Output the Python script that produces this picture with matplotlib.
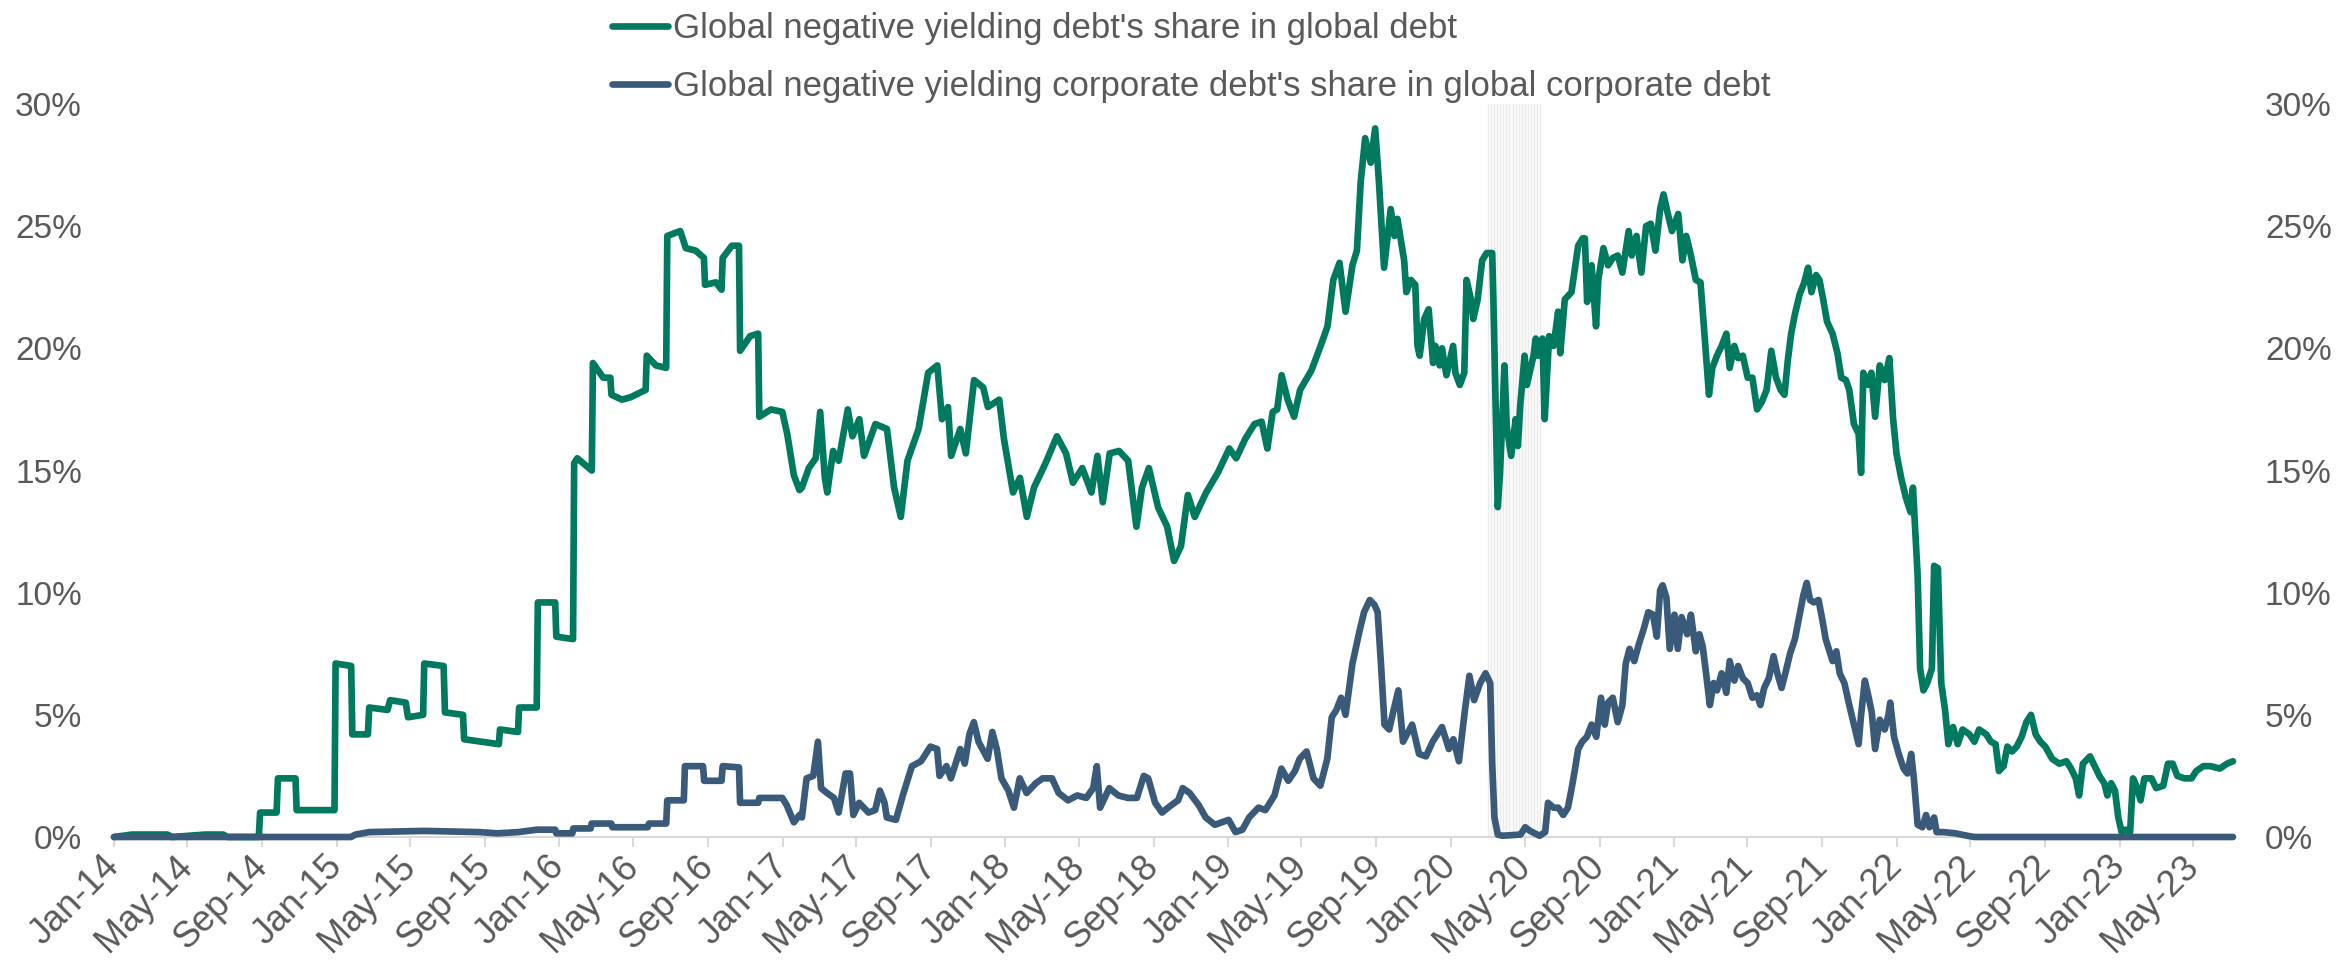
import matplotlib
matplotlib.use("Agg")
import matplotlib.pyplot as plt
import matplotlib.dates as mdates
from matplotlib.ticker import FuncFormatter
from datetime import datetime
import pandas as pd

# ---------------- DATA (dates as decimal years, values in %) ----------------
SERIES_NAMES = [
    "Global negative yielding debt's share in global debt",
    "Global negative yielding corporate debt's share in global corporate debt",
]

G_YR = [
    2014.000, 2014.080, 2014.240, 2014.260, 2014.410, 2014.490, 2014.510, 2014.650,
    2014.656, 2014.730, 2014.736, 2014.815, 2014.820, 2014.990, 2014.995, 2015.065,
    2015.070, 2015.140, 2015.146, 2015.228, 2015.240, 2015.310, 2015.320, 2015.388,
    2015.393, 2015.480, 2015.486, 2015.567, 2015.572, 2015.650, 2015.728, 2015.733,
    2015.814, 2015.819, 2015.898, 2015.903, 2015.981, 2015.986, 2016.061, 2016.066,
    2016.080, 2016.145, 2016.150, 2016.196, 2016.228, 2016.233, 2016.280, 2016.319,
    2016.386, 2016.391, 2016.432, 2016.478, 2016.483, 2016.541, 2016.566, 2016.610,
    2016.647, 2016.652, 2016.700, 2016.726, 2016.731, 2016.772, 2016.804, 2016.809,
    2016.854, 2016.890, 2016.895, 2016.947, 2016.998, 2017.020, 2017.050, 2017.075,
    2017.086, 2017.117, 2017.148, 2017.168, 2017.189, 2017.200, 2017.226, 2017.251,
    2017.292, 2017.313, 2017.344, 2017.365, 2017.416, 2017.468, 2017.500, 2017.530,
    2017.560, 2017.610, 2017.653, 2017.694, 2017.715, 2017.742, 2017.756, 2017.797,
    2017.822, 2017.859, 2017.900, 2017.921, 2017.972, 2017.993, 2018.034, 2018.065,
    2018.096, 2018.128, 2018.180, 2018.231, 2018.272, 2018.303, 2018.345, 2018.386,
    2018.413, 2018.437, 2018.468, 2018.510, 2018.551, 2018.588, 2018.613, 2018.644,
    2018.685, 2018.726, 2018.757, 2018.788, 2018.819, 2018.850, 2018.901, 2018.953,
    2019.005, 2019.036, 2019.077, 2019.118, 2019.150, 2019.176, 2019.200, 2019.220,
    2019.240, 2019.267, 2019.296, 2019.323, 2019.374, 2019.415, 2019.446, 2019.472,
    2019.500, 2019.527, 2019.558, 2019.578, 2019.595, 2019.615, 2019.640, 2019.660,
    2019.677, 2019.700, 2019.730, 2019.747, 2019.760, 2019.790, 2019.800, 2019.820,
    2019.840, 2019.850, 2019.860, 2019.880, 2019.900, 2019.920, 2019.930, 2019.950,
    2019.960, 2019.980, 2020.010, 2020.020, 2020.040, 2020.060, 2020.070, 2020.090,
    2020.100, 2020.120, 2020.140, 2020.160, 2020.185, 2020.190, 2020.210, 2020.220,
    2020.240, 2020.250, 2020.270, 2020.290, 2020.300, 2020.310, 2020.330, 2020.340,
    2020.370, 2020.380, 2020.390, 2020.410, 2020.420, 2020.440, 2020.460, 2020.480,
    2020.490, 2020.510, 2020.540, 2020.570, 2020.590, 2020.600, 2020.610, 2020.630,
    2020.650, 2020.660, 2020.683, 2020.704, 2020.725, 2020.747, 2020.768, 2020.796,
    2020.810, 2020.831, 2020.853, 2020.874, 2020.895, 2020.916, 2020.937, 2020.952,
    2020.969, 2020.990, 2021.018, 2021.037, 2021.054, 2021.075, 2021.097, 2021.118,
    2021.139, 2021.156, 2021.171, 2021.192, 2021.213, 2021.234, 2021.249, 2021.270,
    2021.287, 2021.308, 2021.330, 2021.351, 2021.372, 2021.393, 2021.415, 2021.436,
    2021.457, 2021.478, 2021.495, 2021.510, 2021.525, 2021.542, 2021.563, 2021.584,
    2021.601, 2021.616, 2021.637, 2021.652, 2021.669, 2021.686, 2021.711, 2021.733,
    2021.750, 2021.771, 2021.786, 2021.807, 2021.828, 2021.839, 2021.849, 2021.871,
    2021.885, 2021.902, 2021.923, 2021.945, 2021.966, 2021.983, 2021.998, 2022.019,
    2022.040, 2022.061, 2022.072, 2022.093, 2022.104, 2022.119, 2022.136, 2022.157,
    2022.167, 2022.184, 2022.199, 2022.216, 2022.231, 2022.252, 2022.273, 2022.295,
    2022.326, 2022.348, 2022.369, 2022.401, 2022.422, 2022.443, 2022.458, 2022.479,
    2022.496, 2022.517, 2022.538, 2022.560, 2022.581, 2022.602, 2022.623, 2022.644,
    2022.666, 2022.697, 2022.729, 2022.761, 2022.782, 2022.803, 2022.818, 2022.835,
    2022.867, 2022.888, 2022.909, 2022.931, 2022.945, 2022.962, 2022.979, 2022.994,
    2023.009, 2023.026, 2023.047, 2023.060, 2023.079, 2023.094, 2023.111, 2023.143,
    2023.164, 2023.196, 2023.217, 2023.238, 2023.259, 2023.291, 2023.323, 2023.344,
    2023.376, 2023.408, 2023.450, 2023.482, 2023.509,
]
G_VAL = [
    0.0, 0.1, 0.1, 0.0, 0.1, 0.1, 0.0, 0.0,
    1.0, 1.0, 2.4, 2.4, 1.1, 1.1, 7.1, 7.0,
    4.2, 4.2, 5.3, 5.2, 5.6, 5.5, 4.9, 5.0,
    7.1, 7.0, 5.1, 5.0, 4.0, 3.9, 3.8, 4.4,
    4.3, 5.3, 5.3, 9.6, 9.6, 8.2, 8.1, 15.3,
    15.5, 15.0, 19.4, 18.8, 18.8, 18.1, 17.9, 18.0,
    18.3, 19.7, 19.3, 19.2, 24.6, 24.8, 24.1, 24.0,
    23.7, 22.6, 22.7, 22.4, 23.7, 24.2, 24.2, 19.9,
    20.5, 20.6, 17.2, 17.5, 17.4, 16.5, 14.8, 14.2,
    14.3, 15.1, 15.5, 17.4, 14.7, 14.1, 15.8, 15.4,
    17.5, 16.4, 17.1, 15.6, 16.9, 16.7, 14.3, 13.1,
    15.4, 16.7, 19.0, 19.3, 17.1, 17.6, 15.6, 16.7,
    15.7, 18.7, 18.4, 17.6, 17.9, 16.3, 14.1, 14.7,
    13.1, 14.3, 15.3, 16.4, 15.7, 14.5, 15.1, 14.1,
    15.6, 13.7, 15.7, 15.8, 15.4, 12.7, 14.3, 15.1,
    13.5, 12.7, 11.3, 11.9, 14.0, 13.1, 14.1, 14.9,
    15.9, 15.5, 16.3, 16.9, 17.0, 15.9, 17.4, 17.5,
    18.9, 17.9, 17.2, 18.3, 19.1, 20.1, 20.9, 22.8,
    23.5, 21.5, 23.4, 24.0, 26.8, 28.6, 27.6, 29.0,
    26.8, 23.3, 25.7, 24.6, 25.3, 23.6, 22.3, 22.8,
    22.6, 20.1, 19.7, 21.2, 21.6, 19.4, 20.1, 19.3,
    20.0, 18.9, 20.1, 19.0, 18.5, 19.0, 22.8, 22.0,
    21.2, 22.0, 23.6, 23.9, 23.9, 22.1, 13.5, 14.9,
    19.3, 16.8, 15.6, 17.1, 16.0, 17.6, 19.7, 18.5,
    19.7, 20.4, 19.7, 20.4, 17.1, 20.5, 20.1, 21.5,
    19.8, 22.0, 22.3, 24.2, 24.5, 24.5, 21.9, 23.4,
    20.9, 22.8, 24.1, 23.4, 23.7, 23.8, 23.1, 24.8,
    23.8, 24.6, 23.1, 25.0, 25.1, 24.0, 25.7, 26.3,
    25.6, 24.8, 25.5, 23.6, 24.6, 23.8, 22.8, 22.7,
    20.2, 18.1, 19.2, 19.7, 20.1, 20.6, 19.2, 20.1,
    19.6, 19.7, 18.8, 18.8, 17.5, 17.8, 18.3, 19.9,
    18.8, 18.3, 18.1, 19.5, 20.6, 21.4, 22.2, 22.7,
    23.3, 22.3, 23.0, 22.8, 22.0, 21.1, 20.6, 19.8,
    18.8, 18.7, 18.3, 16.9, 16.5, 14.9, 19.0, 18.5,
    19.0, 17.2, 19.3, 18.7, 19.6, 17.1, 15.7, 14.7,
    13.9, 13.3, 14.3, 10.7, 6.9, 6.0, 6.3, 6.9,
    11.1, 11.0, 6.3, 5.2, 3.8, 4.5, 3.8, 4.4,
    4.2, 3.9, 4.4, 4.2, 3.9, 3.8, 2.7, 2.9,
    3.7, 3.5, 3.7, 4.1, 4.7, 5.0, 4.2, 3.9,
    3.7, 3.2, 3.0, 3.1, 2.8, 2.4, 1.7, 3.0,
    3.3, 2.9, 2.5, 2.2, 1.7, 2.2, 1.9, 0.8,
    0.2, 0.3, 0.2, 2.4, 2.0, 1.5, 2.4, 2.4,
    2.0, 2.1, 3.0, 3.0, 2.5, 2.4, 2.4, 2.7,
    2.9, 2.9, 2.8, 3.0, 3.1,
]

B_YR = [
    2014.000, 2015.064, 2015.084, 2015.146, 2015.393, 2015.640, 2015.722, 2015.815,
    2015.900, 2015.981, 2015.986, 2016.058, 2016.062, 2016.140, 2016.144, 2016.232,
    2016.237, 2016.395, 2016.401, 2016.478, 2016.483, 2016.557, 2016.562, 2016.643,
    2016.648, 2016.726, 2016.731, 2016.804, 2016.809, 2016.890, 2016.895, 2016.998,
    2017.018, 2017.050, 2017.075, 2017.086, 2017.107, 2017.137, 2017.158, 2017.172,
    2017.199, 2017.230, 2017.251, 2017.282, 2017.302, 2017.317, 2017.343, 2017.385,
    2017.415, 2017.436, 2017.457, 2017.467, 2017.508, 2017.539, 2017.580, 2017.621,
    2017.663, 2017.693, 2017.704, 2017.735, 2017.755, 2017.797, 2017.817, 2017.838,
    2017.858, 2017.879, 2017.920, 2017.941, 2017.961, 2017.982, 2018.013, 2018.038,
    2018.064, 2018.095, 2018.136, 2018.167, 2018.209, 2018.239, 2018.281, 2018.322,
    2018.363, 2018.394, 2018.410, 2018.425, 2018.466, 2018.507, 2018.549, 2018.590,
    2018.621, 2018.641, 2018.672, 2018.703, 2018.744, 2018.775, 2018.796, 2018.827,
    2018.868, 2018.899, 2018.940, 2019.002, 2019.033, 2019.064, 2019.094, 2019.136,
    2019.167, 2019.208, 2019.239, 2019.270, 2019.300, 2019.321, 2019.352, 2019.383,
    2019.414, 2019.445, 2019.465, 2019.486, 2019.507, 2019.527, 2019.558, 2019.589,
    2019.610, 2019.636, 2019.657, 2019.671, 2019.686, 2019.702, 2019.723, 2019.743,
    2019.764, 2019.785, 2019.826, 2019.857, 2019.888, 2019.918, 2019.960, 2019.991,
    2020.011, 2020.036, 2020.063, 2020.083, 2020.104, 2020.131, 2020.155, 2020.176,
    2020.185, 2020.195, 2020.210, 2020.230, 2020.312, 2020.333, 2020.354, 2020.397,
    2020.422, 2020.435, 2020.460, 2020.481, 2020.503, 2020.524, 2020.541, 2020.556,
    2020.570, 2020.588, 2020.609, 2020.630, 2020.651, 2020.672, 2020.689, 2020.704,
    2020.725, 2020.747, 2020.768, 2020.783, 2020.800, 2020.821, 2020.842, 2020.863,
    2020.884, 2020.905, 2020.922, 2020.937, 2020.948, 2020.965, 2020.980, 2021.001,
    2021.016, 2021.033, 2021.058, 2021.075, 2021.097, 2021.113, 2021.128, 2021.143,
    2021.160, 2021.177, 2021.192, 2021.213, 2021.234, 2021.249, 2021.270, 2021.287,
    2021.308, 2021.330, 2021.351, 2021.372, 2021.387, 2021.404, 2021.425, 2021.446,
    2021.463, 2021.482, 2021.499, 2021.520, 2021.542, 2021.563, 2021.580, 2021.595,
    2021.610, 2021.627, 2021.648, 2021.665, 2021.680, 2021.694, 2021.711, 2021.728,
    2021.743, 2021.764, 2021.786, 2021.807, 2021.828, 2021.839, 2021.856, 2021.871,
    2021.887, 2021.902, 2021.923, 2021.945, 2021.962, 2021.970, 2021.987, 2022.008,
    2022.030, 2022.047, 2022.064, 2022.076, 2022.093, 2022.114, 2022.131, 2022.146,
    2022.167, 2022.178, 2022.210, 2022.263, 2022.316, 2022.348, 2023.509,
]
B_VAL = [
    0.0, 0.0, 0.1, 0.2, 0.25, 0.2, 0.15, 0.2,
    0.3, 0.3, 0.15, 0.15, 0.35, 0.35, 0.55, 0.55,
    0.4, 0.4, 0.55, 0.55, 1.5, 1.5, 2.9, 2.9,
    2.3, 2.3, 2.9, 2.85, 1.4, 1.4, 1.6, 1.6,
    1.3, 0.6, 0.9, 0.8, 2.4, 2.5, 3.9, 2.0,
    1.8, 1.6, 1.0, 2.6, 2.6, 0.9, 1.4, 1.0,
    1.1, 1.9, 1.4, 0.8, 0.7, 1.7, 2.9, 3.1,
    3.7, 3.6, 2.5, 2.9, 2.4, 3.6, 3.0, 4.2,
    4.7, 3.9, 3.2, 4.3, 3.6, 2.4, 1.9, 1.2,
    2.4, 1.8, 2.2, 2.4, 2.4, 1.8, 1.5, 1.7,
    1.6, 2.0, 2.9, 1.2, 2.0, 1.7, 1.6, 1.6,
    2.5, 2.4, 1.4, 1.0, 1.3, 1.5, 2.0, 1.8,
    1.3, 0.8, 0.5, 0.7, 0.2, 0.3, 0.8, 1.2,
    1.1, 1.7, 2.8, 2.3, 2.7, 3.2, 3.5, 2.4,
    2.1, 3.2, 4.9, 5.2, 5.7, 5.0, 7.1, 8.4,
    9.2, 9.7, 9.5, 9.2, 7.1, 4.6, 4.4, 5.2,
    6.0, 3.9, 4.6, 3.4, 3.3, 3.9, 4.5, 3.6,
    4.0, 3.1, 5.2, 6.6, 5.6, 6.3, 6.7, 6.3,
    3.0, 0.8, 0.1, 0.05, 0.1, 0.4, 0.25, 0.05,
    0.2, 1.4, 1.2, 1.2, 0.9, 1.2, 2.0, 2.8,
    3.6, 3.9, 4.1, 4.6, 4.1, 5.7, 4.6, 5.5,
    5.7, 4.7, 5.4, 7.1, 7.7, 7.2, 7.9, 8.5,
    9.2, 9.1, 8.2, 10.1, 10.3, 9.8, 7.7, 9.1,
    7.7, 9.0, 8.3, 9.1, 7.6, 8.3, 7.8, 6.7,
    5.4, 6.3, 6.0, 6.7, 5.9, 7.2, 6.4, 7.0,
    6.5, 6.3, 5.7, 5.8, 5.4, 6.1, 6.5, 7.4,
    6.7, 6.1, 6.7, 7.5, 8.1, 9.1, 9.9, 10.4,
    9.7, 9.6, 9.7, 8.9, 8.1, 7.7, 7.2, 7.6,
    6.7, 6.3, 5.4, 4.6, 3.8, 5.0, 6.4, 5.8,
    5.1, 3.6, 4.8, 4.4, 5.0, 5.5, 4.1, 3.4,
    2.8, 2.6, 3.4, 2.4, 0.5, 0.4, 0.9, 0.4,
    0.8, 0.2, 0.2, 0.15, 0.05, 0.0, 0.0,
]

HATCH_START = "2020-03-02"
HATCH_END = "2020-05-29"
X_START = "2014-01-01"
Y_TICKS = [0, 5, 10, 15, 20, 25, 30]

# ---------------- helpers ----------------
def dec_year(y):
    yr = int(y)
    a = datetime(yr, 1, 1)
    b = datetime(yr + 1, 1, 1)
    return a + (b - a) * (y - yr)

g_dates = [dec_year(v) for v in G_YR]
b_dates = [dec_year(v) for v in B_YR]

GREEN = "#007A5E"
BLUE = "#3A5A7A"
TEXT = "#595959"
AXIS = "#D9D9D9"

plt.rcParams["font.family"] = ["Liberation Sans", "DejaVu Sans"]

W, H = 2336, 964
fig = plt.figure(figsize=(W / 100, H / 100), dpi=100)
L, R, B, T = 114, 2233, 837, 104
ax = fig.add_axes([L / W, 1 - B / H, (R - L) / W, (B - T) / H])

# shaded period (faint vertical stripes)
hs, he = pd.Timestamp(HATCH_START), pd.Timestamp(HATCH_END)
ax.axvspan(hs, he, ymin=0, ymax=1, facecolor="#FBFBFB", edgecolor="none", zorder=0)
for d in pd.date_range(hs, he, freq="5D"):
    ax.axvline(d, color="#EBEBEB", lw=0.9, zorder=0.5)

l1, = ax.plot(g_dates, G_VAL, color=GREEN, lw=4.8, solid_capstyle="round",
              solid_joinstyle="round", clip_on=False, zorder=3)
l2, = ax.plot(b_dates, B_VAL, color=BLUE, lw=4.8, solid_capstyle="round",
              solid_joinstyle="round", clip_on=False, zorder=4)

ax.set_xlim(pd.Timestamp(X_START), b_dates[-1])
ax.set_ylim(Y_TICKS[0], Y_TICKS[-1])
ax.set_yticks(Y_TICKS)
ax.yaxis.set_major_formatter(FuncFormatter(lambda v, p: f"{v:.0f}%"))
ax.tick_params(axis="y", length=0, pad=23, labelsize=24, labelcolor=TEXT,
               labelleft=True, labelright=True)

ax.xaxis.set_major_locator(mdates.MonthLocator(bymonth=[1, 5, 9]))
ax.xaxis.set_major_formatter(mdates.DateFormatter("%b-%y"))
ax.tick_params(axis="x", length=7.5, width=1.5, color=AXIS, direction="out",
               labelsize=26, labelcolor=TEXT, pad=10)
for lab in ax.get_xticklabels():
    lab.set_rotation(45)
    lab.set_ha("right")
    lab.set_va("center")
    lab.set_rotation_mode("anchor")

for s in ("top", "left", "right"):
    ax.spines[s].set_visible(False)
ax.spines["bottom"].set_color(AXIS)
ax.spines["bottom"].set_linewidth(1.5)
ax.spines["bottom"].set_zorder(1)
ax.set_facecolor("none")

fig.legend([l1, l2], SERIES_NAMES, loc="upper left",
           bbox_to_anchor=(612 / W, 1 - 12 / H), frameon=False, fontsize=25,
           labelcolor=TEXT, handlelength=1.6, handletextpad=0.15,
           labelspacing=0.72, borderpad=0, borderaxespad=0)

fig.savefig("out.png", dpi=100)
